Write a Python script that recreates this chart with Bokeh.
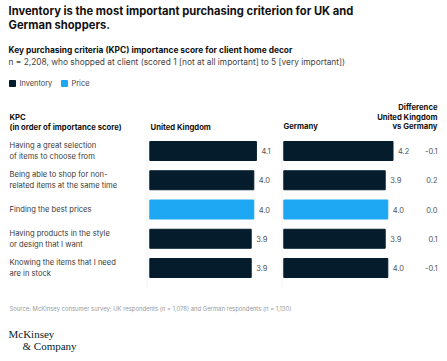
from bokeh.plotting import figure
from bokeh.models import Range1d, ColumnDataSource
from bokeh.core.properties import value
from bokeh.embed import file_html
from bokeh.resources import INLINE

# ---------------- data ----------------
criteria = [
    "Having a great selection\nof items to choose from",
    "Being able to shop for non-\nrelated items at the same time",
    "Finding the best prices",
    "Having products in the style\nor design that I want",
    "Knowing the items that I need\nare in stock",
]
kind = ["Inventory", "Inventory", "Price", "Inventory", "Inventory"]
uk_scores = [4.1, 4.0, 4.0, 3.9, 3.9]
de_scores = [4.2, 3.9, 4.0, 3.9, 4.0]
difference = ["-0.1", "0.2", "0.0", "0.1", "-0.1"]
uk_labels = ["4.1", "4.0", "4.0", "3.9", "3.9"]
de_labels = ["4.2", "3.9", "4.0", "3.9", "4.0"]
legend_items = ["Inventory", "Price"]

NAVY = "#051c2c"
CYAN = "#1ea7f3"
colors = {"Inventory": NAVY, "Price": CYAN}

W, H = 443, 357
SANS = "Inter"

p = figure(width=W, height=H, output_backend="svg", toolbar_location=None,
           x_range=Range1d(0, W), y_range=Range1d(H, 0),
           min_border=0, outline_line_color=None)
p.axis.visible = False
p.grid.visible = False
p.background_fill_color = "white"
p.border_fill_color = "white"

# scales for bar panels (px per unit ~26)
ppu = 26.0
uk0, de0 = 149.3, 283.3
p.extra_x_ranges = {
    "uk": Range1d(-uk0 / ppu, -uk0 / ppu + W / ppu),
    "de": Range1d(-de0 / ppu, -de0 / ppu + W / ppu),
}
row0, rstep = 150.5, 29.25
p.extra_y_ranges = {
    "rows": Range1d((H - row0) / rstep, (0 - row0) / rstep),
}

rows = list(range(len(criteria)))
src = ColumnDataSource(dict(
    row=rows,
    zero=[0] * len(rows),
    uk=uk_scores,
    de=de_scores,
    color=[colors[k] for k in kind],
    crit=criteria,
    ukl=uk_labels,
    del_=de_labels,
    diff=difference,
))

BAR_H = 19.0 / rstep
p.hbar(y="row", left="zero", right="uk", height=BAR_H, color="color", source=src,
       x_range_name="uk", y_range_name="rows")
p.hbar(y="row", left="zero", right="de", height=BAR_H, color="color", source=src,
       x_range_name="de", y_range_name="rows")

# value labels
p.text(x="uk", y="row", text="ukl", source=src, x_range_name="uk", y_range_name="rows",
       x_offset=5, text_align="left", text_baseline="middle", text_font_size="7.5px",
       text_color="#555555", text_font=value(SANS))
p.text(x="de", y="row", text="del_", source=src, x_range_name="de", y_range_name="rows",
       x_offset=5, text_align="left", text_baseline="middle", text_font_size="7.5px",
       text_color="#555555", text_font=value(SANS))
# difference
p.text(x=437, y="row", text="diff", source=src, y_range_name="rows",
       text_align="right", text_baseline="middle", text_font_size="7.5px",
       text_color="#555555", text_font=value(SANS))
# criteria labels
p.text(x=9, y="row", text="crit", source=src, y_range_name="rows",
       text_align="left", text_baseline="middle", text_font_size="7.6px",
       text_line_height=1.25, text_color="#3a3a3a", text_font=value(SANS))

# faint panel guides
p.segment(x0=[146.5, 281.5], y0=[136, 136], x1=[146.5, 281.5], y1=[287, 287],
          line_color="#f2f2f2", line_width=1)

def txt(x, y, s, size, bold=False, color="#051c2c", align="left", font=SANS,
        baseline="middle"):
    p.text(x=[x], y=[y], text=[s], text_font_size=size,
           text_font_style="bold" if bold else "normal", text_color=color,
           text_align=align, text_baseline=baseline, text_font=value(font))

# titles
txt(8, 10, "Inventory is the most important purchasing criterion for UK and", "11.2px", True, "#111111")
txt(8, 24, "German shoppers.", "11.2px", True, "#111111")
txt(8, 49, "Key purchasing criteria (KPC) importance score for client home decor", "8.4px", True, "#111111")
txt(8, 61, "n = 2,208, who shopped at client (scored 1 [not at all important] to 5 [very important])",
    "8.35px", False, "#444444")

# legend
lx = [9, 61]
for i, name in enumerate(legend_items):
    p.rect(x=[lx[i] + 3], y=[83], width=6, height=6, color=colors[name])
    txt(lx[i] + 10, 83, name, "7.4px", False, "#444444")

# column headers
txt(9, 117, "KPC", "7.7px", True, "#111111")
txt(9, 126.5, "(in order of importance score)", "7.7px", True, "#111111")
txt(150, 127, "United Kingdom", "7.7px", True, "#111111")
txt(283, 126, "Germany", "7.7px", True, "#111111")
txt(437, 107, "Difference", "7.7px", True, "#111111", align="right")
txt(437, 116.5, "United Kingdom", "7.7px", True, "#111111", align="right")
txt(437, 126, "vs Germany", "7.7px", True, "#111111", align="right")

# source
txt(9, 308, "Source: McKinsey consumer survey; UK respondents (n = 1,078) and German respondents (n = 1,130)",
    "5.9px", False, "#9a9a9a")

# logo
txt(8, 333, "McKinsey", "11px", False, NAVY, font="Liberation Serif")
txt(22, 345, "& Company", "11px", False, NAVY, font="Liberation Serif")

open("out.html", "w").write(file_html(p, INLINE))
